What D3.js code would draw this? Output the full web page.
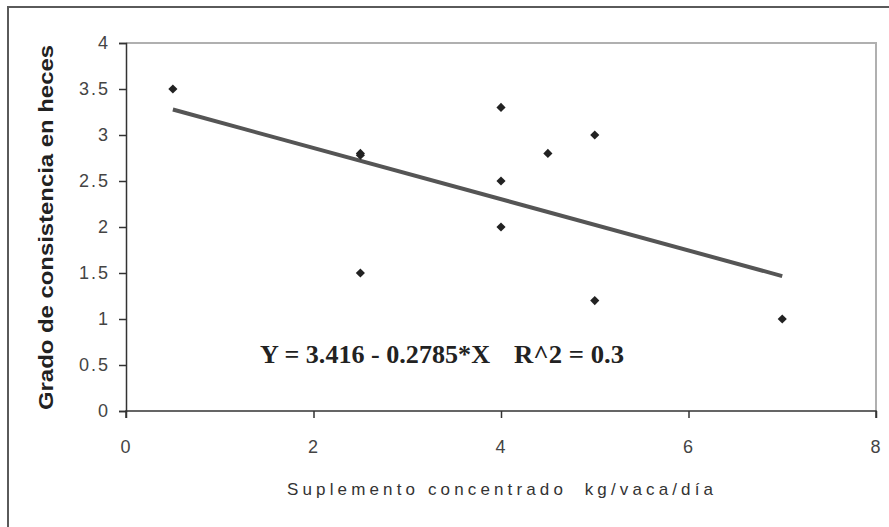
<!DOCTYPE html>
<html>
<head>
<meta charset="utf-8">
<script src="https://cdn.jsdelivr.net/npm/d3@7"></script>
<style>
  html, body { margin: 0; padding: 0; background: #fff; }
  svg { display: block; }
</style>
</head>
<body>
<div id="chart"></div>
<script>
// data
const xValues = [0.5, 2.5, 2.5, 2.5, 4, 4, 4, 4.5, 5, 5, 7];
const yValues = [3.5, 2.8, 2.78, 1.5, 3.3, 2.5, 2.0, 2.8, 3.0, 1.2, 1.0];
const xTicks = [0, 2, 4, 6, 8];
const yTicks = [0, 0.5, 1, 1.5, 2, 2.5, 3, 3.5, 4];
const fitIntercept = 3.416;
const fitSlope = -0.2785;
const fitRange = [0.5, 7];
const equationLabel = 'Y = 3.416 - 0.2785*X';
const r2Label = 'R^2 = 0.3';
const xTitle = 'Suplemento concentrado  kg/vaca/día';
const yTitle = 'Grado de consistencia en heces';

const width = 889, height = 527;
const plot = { left: 126, top: 43, right: 876, bottom: 411 };

const svg = d3.select('#chart').append('svg')
  .attr('width', width)
  .attr('height', height);

// outer frame (only top and left edges are visible in the picture)
svg.append('line')
  .attr('x1', 8).attr('y1', 7).attr('x2', width).attr('y2', 7)
  .attr('stroke', '#5a5a5a').attr('stroke-width', 2);
svg.append('line')
  .attr('x1', 8).attr('y1', 6).attr('x2', 8).attr('y2', height)
  .attr('stroke', '#5a5a5a').attr('stroke-width', 2);

const x = d3.scaleLinear().domain([0, 8]).range([plot.left, plot.right]);
const y = d3.scaleLinear().domain([0, 4]).range([plot.bottom, plot.top]);

// plot area top / right border (light gray)
svg.append('path')
  .attr('d', `M${plot.left},${plot.top}H${plot.right}V${plot.bottom}`)
  .attr('fill', 'none')
  .attr('stroke', '#b0b0b0')
  .attr('stroke-width', 2);

// axes
const yAxis = svg.append('g')
  .attr('transform', `translate(${plot.left},0)`)
  .call(d3.axisLeft(y).tickValues(yTicks).tickSize(7).tickPadding(9)
    .tickFormat(d3.format('')));
const xAxis = svg.append('g')
  .attr('transform', `translate(0,${plot.bottom})`)
  .call(d3.axisBottom(x).tickValues(xTicks).tickSize(7).tickPadding(22));

[yAxis, xAxis].forEach(g => {
  g.select('.domain').attr('stroke', '#333').attr('stroke-width', 1.5);
  g.selectAll('.tick line').attr('stroke', '#333').attr('stroke-width', 1.5);
  g.selectAll('.tick text')
    .attr('fill', '#444')
    .style('font-family', '"Liberation Sans", Arial, sans-serif')
    .style('font-size', '18px')
    .style('letter-spacing', '2px');
});
xAxis.select('.domain').attr('d', `M${plot.left},7V0H${plot.right}V7`);

// trend line
const fit = fitRange.map(v => [v, fitIntercept + fitSlope * v]);
svg.append('path')
  .datum(fit)
  .attr('d', d3.line().x(d => x(d[0])).y(d => y(d[1])))
  .attr('stroke', '#555')
  .attr('stroke-width', 4)
  .attr('fill', 'none');

// points
const points = xValues.map((v, i) => [v, yValues[i]]);
svg.append('g').selectAll('path')
  .data(points)
  .join('path')
  .attr('transform', d => `translate(${x(d[0])},${y(d[1])}) rotate(45)`)
  .attr('d', d3.symbol(d3.symbolSquare, 42))
  .attr('fill', '#222');

// equation
const eqStyle = sel => sel
  .attr('fill', '#222')
  .style('font-family', '"Liberation Serif", "Times New Roman", serif')
  .style('font-weight', 'bold')
  .style('font-size', '25px');
svg.append('text').attr('x', 260).attr('y', 363).call(eqStyle)
  .attr('textLength', 230).attr('lengthAdjust', 'spacingAndGlyphs')
  .text(equationLabel);
svg.append('text').attr('x', 514).attr('y', 363).call(eqStyle)
  .attr('textLength', 110).attr('lengthAdjust', 'spacingAndGlyphs')
  .text(r2Label);

// axis titles
svg.append('text')
  .attr('x', 500)
  .attr('y', 495)
  .attr('text-anchor', 'middle')
  .attr('fill', '#333')
  .attr('textLength', 426)
  .attr('lengthAdjust', 'spacing')
  .style('font-family', '"Liberation Sans", Arial, sans-serif')
  .style('font-size', '17px')
  .style('white-space', 'pre')
  .text(xTitle);

svg.append('text')
  .attr('transform', `translate(53,${(45 + 410) / 2}) rotate(-90)`)
  .attr('text-anchor', 'middle')
  .attr('fill', '#222')
  .attr('textLength', 365)
  .attr('lengthAdjust', 'spacingAndGlyphs')
  .style('font-family', '"Liberation Sans", Arial, sans-serif')
  .style('font-weight', 'bold')
  .style('font-size', '21px')
  .text(yTitle);
</script>
</body>
</html>
